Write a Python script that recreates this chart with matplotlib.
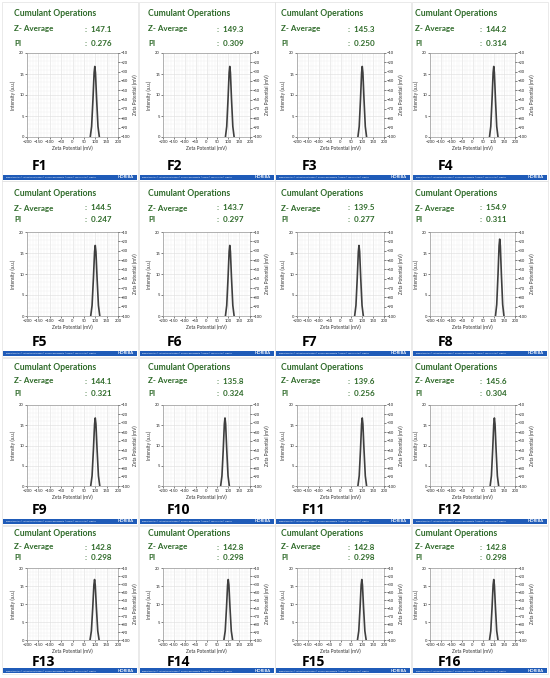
import matplotlib
matplotlib.use("Agg")
import matplotlib.pyplot as plt
from matplotlib.patches import Rectangle
from matplotlib.ticker import MultipleLocator

plt.rcParams['font.family'] = ['Lato', 'DejaVu Sans']

labels = ["F1", "F2", "F3", "F4", "F5", "F6", "F7", "F8",
          "F9", "F10", "F11", "F12", "F13", "F14", "F15", "F16"]
z_average = [147.1, 149.3, 145.3, 144.2, 144.5, 143.7, 139.5, 154.9,
             144.1, 135.8, 139.6, 145.6, 142.8, 142.8, 142.8, 142.8]
pi_values = [0.276, 0.309, 0.250, 0.314, 0.247, 0.297, 0.277, 0.311,
             0.321, 0.324, 0.256, 0.304, 0.298, 0.298, 0.298, 0.298]

peak_x = [
    [78, 84, 90, 95, 98, 101, 106, 112, 118],
    [87, 93, 99, 104, 107, 110, 115, 121, 127],
    [80, 86, 92, 97, 100, 103, 108, 114, 120],
    [80, 86, 92, 97, 100, 103, 108, 114, 120],
    [80, 86, 92, 97, 100, 103, 108, 114, 120],
    [87, 93, 99, 104, 107, 110, 115, 121, 127],
    [65, 71, 77, 82, 85, 88, 93, 99, 105],
    [108, 114, 120, 125, 128, 131, 136, 142, 148],
    [80, 86, 92, 97, 100, 103, 108, 114, 120],
    [65, 71, 77, 82, 85, 88, 93, 99, 105],
    [80, 86, 92, 97, 100, 103, 108, 114, 120],
    [83, 89, 95, 100, 103, 106, 111, 117, 123],
    [77, 83, 89, 94, 97, 100, 105, 111, 117],
    [80, 86, 92, 97, 100, 103, 108, 114, 120],
    [78, 84, 90, 95, 98, 101, 106, 112, 118],
    [80, 86, 92, 97, 100, 103, 108, 114, 120],
]
peak_y_std = [0, 2.5, 9.0, 15.3, 16.8, 15.3, 9.0, 2.5, 0]
peak_y_f8 = [0, 2.7, 9.8, 16.7, 18.3, 16.7, 9.8, 2.7, 0]
peak_y = [peak_y_std] * 7 + [peak_y_f8] + [peak_y_std] * 8

x_ticks = [-200, -150, -100, -50, 0, 50, 100, 150, 200]
left_ticks = [0, 5, 10, 15, 20]
right_ticks = [-10, -20, -30, -40, -50, -60, -70, -80, -90, -100]

W, H = 550, 678
fig = plt.figure(figsize=(W / 100, H / 100), dpi=100)
fig.patch.set_facecolor("white")
bg = fig.add_axes([0, 0, 1, 1])
bg.set_xlim(0, W)
bg.set_ylim(H, 0)
bg.axis("off")

GREEN = "#2f6b2a"
BLUE = "#1f5bb8"

# per-row layout (pixel y positions)
rows = [
    dict(top=2, title=14, z=29, pi=43, ptop=53, pbot=137, flab=166, bar=175),
    dict(top=181, title=193, z=208, pi=220, ptop=232, pbot=316, flab=342, bar=351),
    dict(top=358, title=367, z=381, pi=393, ptop=405, pbot=486, flab=510, bar=519),
    dict(top=526, title=534, z=547, pi=558, ptop=568, pbot=640, flab=662, bar=668),
]
# per-column layout (pixel x positions)
cols = [
    dict(bar=3, text=14, colon=85, flab=32, pl=27, pr=118),
    dict(bar=139.5, text=148, colon=217, flab=167, pl=163, pr=250),
    dict(bar=276, text=281, colon=348, flab=302, pl=297, pr=384),
    dict(bar=412.5, text=415, colon=480, flab=438, pl=430, pr=515),
]
BAR_W = 134

for i in range(16):
    r, c = divmod(i, 4)
    L = rows[r]
    C = cols[c]
    # panel border
    bg.add_patch(Rectangle((C["bar"] - 1, L["top"]), BAR_W + 2, L["bar"] + 6 - L["top"],
                           fill=False, ec="#e2e2e2", lw=0.5))
    # header texts
    bg.text(C["text"], L["title"], "Cumulant Operations", color=GREEN, fontsize=6.2,
            fontweight="bold", va="center", ha="left")
    bg.text(C["text"], L["z"], "Z- Average", color=GREEN, fontsize=5.8,
            fontweight="bold", va="center", ha="left")
    bg.text(C["colon"], L["z"], ":  %.1f" % z_average[i], color=GREEN, fontsize=5.8,
            fontweight="bold", va="center", ha="left")
    bg.text(C["text"], L["pi"], "PI", color=GREEN, fontsize=5.8,
            fontweight="bold", va="center", ha="left")
    bg.text(C["colon"], L["pi"], ":  %.3f" % pi_values[i], color=GREEN, fontsize=5.8,
            fontweight="bold", va="center", ha="left")
    # sample label
    bg.text(C["flab"], L["flab"], labels[i], color="black", fontsize=10,
            fontweight="bold", va="center", ha="left", family=["Open Sans", "DejaVu Sans"])
    # footer bar
    bg.add_patch(Rectangle((C["bar"], L["bar"]), BAR_W, 5, color=BLUE, lw=0))
    bg.text(C["bar"] + 3, L["bar"] + 2.5,
            "Explore the Future  |  Automotive Test Systems  |  Process & Environmental  |  Medical  |  Semiconductor  |  Scientific",
            color="white", fontsize=1.3, va="center", ha="left")
    bg.text(C["bar"] + BAR_W - 3, L["bar"] + 2.5, "HORIBA", color="white", fontsize=3,
            fontweight="bold", va="center", ha="right")

    # plot
    pl, pr = C["pl"], C["pr"]
    ax = fig.add_axes([pl / W, 1 - L["pbot"] / H, (pr - pl) / W, (L["pbot"] - L["ptop"]) / H])
    ax.plot(peak_x[i], peak_y[i], color="#3f3f3f", lw=1.2)
    ax.set_xlim(-200, 200)
    ax.set_ylim(0, 20)
    ax.set_xticks(x_ticks)
    ax.set_yticks(left_ticks)
    ax.xaxis.set_minor_locator(MultipleLocator(12.5))
    ax.yaxis.set_minor_locator(MultipleLocator(1))
    ax.grid(True, which="major", color="#dedede", lw=0.4)
    ax.grid(True, which="minor", color="#efefef", lw=0.3)
    ax.set_axisbelow(True)
    ax.tick_params(labelsize=3.0, length=1.2, width=0.4, pad=1, colors="#222222")
    ax.tick_params(which="minor", length=0)
    for s in ax.spines.values():
        s.set_color("#9a9a9a")
        s.set_linewidth(0.5)
    ax.set_xlabel("Zeta Potential (mV)", fontsize=3.4, labelpad=1.2, color="#333333")
    ax.set_ylabel("Intensity (a.u.)", fontsize=3.4, labelpad=2, color="#333333")
    ax2 = ax.twinx()
    ax2.set_ylim(-100, -10)
    ax2.set_yticks(right_ticks)
    ax2.tick_params(labelsize=3.0, length=1.2, width=0.4, pad=1, colors="#222222")
    for s in ax2.spines.values():
        s.set_visible(False)
    ax2.set_ylabel("Zeta Potential (mV)", fontsize=3.4, labelpad=1.5, color="#333333")

fig.savefig("out.png", dpi=100, facecolor="white")
